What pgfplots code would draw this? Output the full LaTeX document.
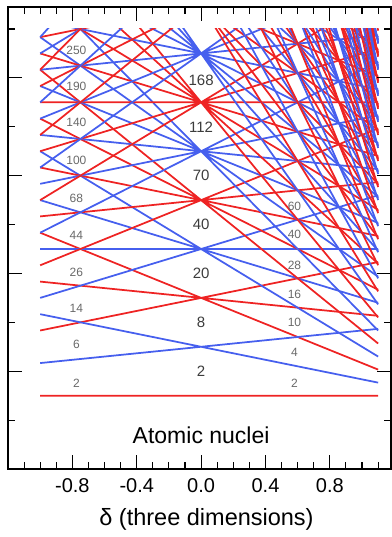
\documentclass[border=0pt]{standalone}
\usepackage{pgfplots}
\pgfplotsset{compat=1.18}
\usepackage{fontspec}
\setmainfont{Liberation Sans}
\definecolor{lred}{RGB}{238,35,35}
\definecolor{lblue}{RGB}{70,95,238}
\definecolor{lbl}{RGB}{60,60,60}
\definecolor{slbl}{RGB}{105,105,105}
\begin{document}
\begin{tikzpicture}
\useasboundingbox (-8pt,-68pt) rectangle (383pt,469pt);
% levels E = N + 3/2 + delta (N - 3 n_z)/3, endpoints at delta=-1 and 1.1
\begin{axis}[at={(0,0)}, anchor=south west, scale only axis,
  width=383pt, height=440pt, xmin=-1.2, xmax=1.18, ymin=0, ymax=9,
  hide axis, clip=true, unbounded coords=jump,
  every axis plot/.append style={line width=1.75pt}]
% N=0 and N=2
\addplot[lred] coordinates {(-1,1.5) (1.1,1.5) (nan,nan) (-1,2.8333) (1.1,4.2333) (nan,nan) (-1,3.8333) (1.1,3.1333) (nan,nan) (-1,4.8333) (1.1,2.0333)};
% N=1
\addplot[lblue] coordinates {(-1,2.1667) (1.1,2.8667) (nan,nan) (-1,3.1667) (1.1,1.7667)};
% N=3
\addplot[lblue] coordinates {(-1,3.5) (1.1,5.6) (nan,nan) (-1,4.5) (1.1,4.5) (nan,nan) (-1,5.5) (1.1,3.4) (nan,nan) (-1,6.5) (1.1,2.3)};
% N=4
\addplot[lred] coordinates {(-1,4.1667) (1.1,6.9667) (nan,nan) (-1,5.1667) (1.1,5.8667) (nan,nan) (-1,6.1667) (1.1,4.7667) (nan,nan) (-1,7.1667) (1.1,3.6667) (nan,nan) (-1,8.1667) (1.1,2.5667)};
% N=5
\addplot[lblue] coordinates {(-1,4.8333) (1.1,8.3333) (nan,nan) (-1,5.8333) (1.1,7.2333) (nan,nan) (-1,6.8333) (1.1,6.1333) (nan,nan) (-1,7.8333) (1.1,5.0333) (nan,nan) (-1,8.8333) (1.1,3.9333) (nan,nan) (-1,9.8333) (1.1,2.8333)};
% N=6
\addplot[lred] coordinates {(-1,5.5) (1.1,9.7) (nan,nan) (-1,6.5) (1.1,8.6) (nan,nan) (-1,7.5) (1.1,7.5) (nan,nan) (-1,8.5) (1.1,6.4) (nan,nan) (-1,9.5) (1.1,5.3) (nan,nan) (-1,10.5) (1.1,4.2) (nan,nan) (-1,11.5) (1.1,3.1)};
% N=7
\addplot[lblue] coordinates {(-1,6.1667) (1.1,11.0667) (nan,nan) (-1,7.1667) (1.1,9.9667) (nan,nan) (-1,8.1667) (1.1,8.8667) (nan,nan) (-1,9.1667) (1.1,7.7667) (nan,nan) (-1,10.1667) (1.1,6.6667) (nan,nan) (-1,11.1667) (1.1,5.5667) (nan,nan) (-1,12.1667) (1.1,4.4667) (nan,nan) (-1,13.1667) (1.1,3.3667)};
% N=8
\addplot[lred] coordinates {(-1,6.8333) (1.1,12.4333) (nan,nan) (-1,7.8333) (1.1,11.3333) (nan,nan) (-1,8.8333) (1.1,10.2333) (nan,nan) (-1,10.8333) (1.1,8.0333) (nan,nan) (-1,11.8333) (1.1,6.9333) (nan,nan) (-1,12.8333) (1.1,5.8333) (nan,nan) (-1,13.8333) (1.1,4.7333) (nan,nan) (-1,14.8333) (1.1,3.6333)};
% N=9
\addplot[lblue] coordinates {(-1,7.5) (1.1,13.8) (nan,nan) (-1,8.5) (1.1,12.7) (nan,nan) (-1,12.5) (1.1,8.3) (nan,nan) (-1,13.5) (1.1,7.2) (nan,nan) (-1,14.5) (1.1,6.1) (nan,nan) (-1,15.5) (1.1,5.0) (nan,nan) (-1,16.5) (1.1,3.9)};
% N=10
\addplot[lred] coordinates {(-1,8.1667) (1.1,15.1667) (nan,nan) (-1,14.1667) (1.1,8.5667) (nan,nan) (-1,15.1667) (1.1,7.4667) (nan,nan) (-1,16.1667) (1.1,6.3667) (nan,nan) (-1,17.1667) (1.1,5.2667) (nan,nan) (-1,18.1667) (1.1,4.1667)};
% N=11
\addplot[lblue] coordinates {(-1,8.8333) (1.1,16.5333) (nan,nan) (-1,15.8333) (1.1,8.8333) (nan,nan) (-1,16.8333) (1.1,7.7333) (nan,nan) (-1,17.8333) (1.1,6.6333) (nan,nan) (-1,18.8333) (1.1,5.5333) (nan,nan) (-1,19.8333) (1.1,4.4333)};
% N=12
\addplot[lred] coordinates {(-1,18.5) (1.1,8.0) (nan,nan) (-1,19.5) (1.1,6.9) (nan,nan) (-1,20.5) (1.1,5.8) (nan,nan) (-1,21.5) (1.1,4.7)};
% N=13
\addplot[lblue] coordinates {(-1,20.1667) (1.1,8.2667) (nan,nan) (-1,21.1667) (1.1,7.1667) (nan,nan) (-1,22.1667) (1.1,6.0667) (nan,nan) (-1,23.1667) (1.1,4.9667)};
% N=14
\addplot[lred] coordinates {(-1,21.8333) (1.1,8.5333) (nan,nan) (-1,22.8333) (1.1,7.4333) (nan,nan) (-1,23.8333) (1.1,6.3333) (nan,nan) (-1,24.8333) (1.1,5.2333)};
% N=15
\addplot[lblue] coordinates {(-1,23.5) (1.1,8.8) (nan,nan) (-1,24.5) (1.1,7.7) (nan,nan) (-1,25.5) (1.1,6.6) (nan,nan) (-1,26.5) (1.1,5.5)};
% N=16
\addplot[lred] coordinates {(-1,26.1667) (1.1,7.9667) (nan,nan) (-1,27.1667) (1.1,6.8667) (nan,nan) (-1,28.1667) (1.1,5.7667)};
% N=17
\addplot[lblue] coordinates {(-1,27.8333) (1.1,8.2333) (nan,nan) (-1,28.8333) (1.1,7.1333) (nan,nan) (-1,29.8333) (1.1,6.0333)};
% N=18
\addplot[lred] coordinates {(-1,29.5) (1.1,8.5) (nan,nan) (-1,30.5) (1.1,7.4) (nan,nan) (-1,31.5) (1.1,6.3)};
% N=19
\addplot[lblue] coordinates {(-1,31.1667) (1.1,8.7667) (nan,nan) (-1,32.1667) (1.1,7.6667) (nan,nan) (-1,33.1667) (1.1,6.5667)};
% N=20
\addplot[lred] coordinates {(-1,33.8333) (1.1,7.9333) (nan,nan) (-1,34.8333) (1.1,6.8333)};
% N=21
\addplot[lblue] coordinates {(-1,35.5) (1.1,8.2) (nan,nan) (-1,36.5) (1.1,7.1)};
% N=22
\addplot[lred] coordinates {(-1,37.1667) (1.1,8.4667) (nan,nan) (-1,38.1667) (1.1,7.3667)};
% N=23
\addplot[lblue] coordinates {(-1,38.8333) (1.1,8.7333) (nan,nan) (-1,39.8333) (1.1,7.6333)};
% N=24..28
\addplot[lred] coordinates {(-1,41.5) (1.1,7.9)};
\addplot[lblue] coordinates {(-1,43.1667) (1.1,8.1667)};
\addplot[lred] coordinates {(-1,44.8333) (1.1,8.4333)};
\addplot[lblue] coordinates {(-1,46.5) (1.1,8.7)};
\addplot[lred] coordinates {(-1,48.1667) (1.1,8.9667)};
\end{axis}
\begin{axis}[at={(0,0)}, anchor=south west, scale only axis,
  width=383pt, height=462pt, xmin=-1.2, xmax=1.18, ymin=0, ymax=9.45,
  axis line style={line width=1.2pt},
  tick style={black, line width=1.1pt},
  major tick length=14pt, minor tick length=7pt, tick align=inside,
  xtick={-0.8,-0.4,0,0.4,0.8}, xticklabels={-0.8,-0.4,0.0,0.4,0.8},
  minor xtick={-1.1,-1.0,-0.9,-0.7,-0.6,-0.5,-0.3,-0.2,-0.1,0.1,0.2,0.3,0.5,0.6,0.7,0.9,1.0,1.1},
  ytick={2,4,6,8}, yticklabels={}, minor ytick={1,3,5,7,9},
  xticklabel style={font=\fontsize{20}{24}\selectfont, yshift=-6pt},
  xlabel={δ (three dimensions)},
  xlabel style={font=\fontsize{23.5}{28}\selectfont, at={(axis description cs:0.5,0)}, anchor=base, yshift=-56pt, xshift=7pt}]
\node[font=\fontsize{23}{27}\selectfont, anchor=base] at (axis cs:0,0.53) {Atomic nuclei};
\begin{scope}[every node/.style={font=\fontsize{15}{18}\selectfont, text=lbl}]
\node at (axis cs:0,2) {2};
\node at (axis cs:0,3) {8};
\node at (axis cs:0,4) {20};
\node at (axis cs:0,5) {40};
\node at (axis cs:0,6) {70};
\node at (axis cs:0,7) {112};
\node at (axis cs:0,7.95) {168};
\end{scope}
\begin{scope}[every node/.style={font=\fontsize{12}{14}\selectfont, text=slbl}]
\node at (axis cs:-0.775,1.76) {2};
\node at (axis cs:-0.775,2.54) {6};
\node at (axis cs:-0.775,3.29) {14};
\node at (axis cs:-0.775,4.03) {26};
\node at (axis cs:-0.775,4.77) {44};
\node at (axis cs:-0.775,5.53) {68};
\node at (axis cs:-0.775,6.32) {100};
\node at (axis cs:-0.775,7.08) {140};
\node at (axis cs:-0.775,7.82) {190};
\node at (axis cs:-0.775,8.57) {250};
\node at (axis cs:0.58,1.76) {2};
\node at (axis cs:0.58,2.39) {4};
\node at (axis cs:0.58,2.99) {10};
\node at (axis cs:0.58,3.58) {16};
\node at (axis cs:0.58,4.17) {28};
\node at (axis cs:0.58,4.79) {40};
\node at (axis cs:0.58,5.38) {60};
\end{scope}
\end{axis}
\end{tikzpicture}
\end{document}
